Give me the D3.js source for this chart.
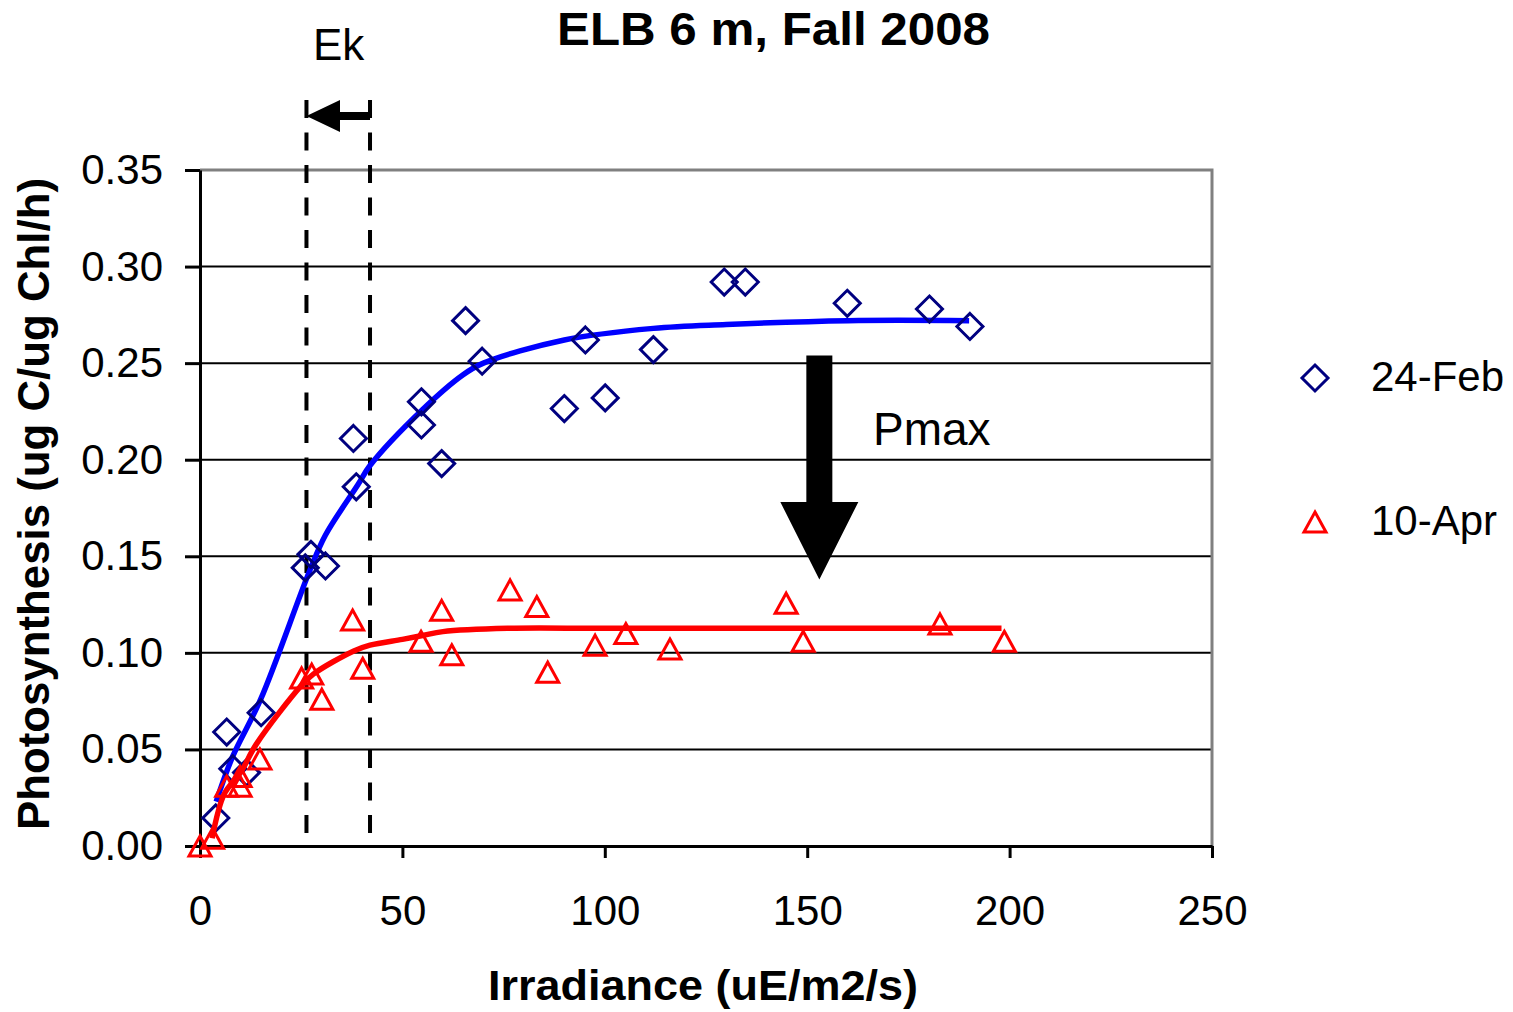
<!DOCTYPE html>
<html>
<head>
<meta charset="utf-8">
<script src="https://cdnjs.cloudflare.com/ajax/libs/d3/7.8.5/d3.min.js"></script>
<style>
  body { margin: 0; background: #fff; }
  text { font-family: "Liberation Sans", Arial, sans-serif; fill: #000; }
</style>
</head>
<body>
<div id="chart"></div>
<script>
/*  Data  */
var febX = [3.9, 6.6, 8.1, 11.5, 15.1, 26, 27.4, 31, 37.9, 38.6, 54.7, 54.7, 59.7, 65.6, 69.7, 90, 95.2, 100.1, 112, 129.5, 134.7, 159.9, 180.2, 190.2];
var febY = [0.0145, 0.059, 0.040, 0.038, 0.069, 0.144, 0.151, 0.145, 0.211, 0.186, 0.230, 0.218, 0.198, 0.272, 0.251, 0.2265, 0.262, 0.232, 0.257, 0.292, 0.292, 0.281, 0.278, 0.269];

var aprX = [0, 3.1, 6.6, 9.9, 9.9, 14.8, 25.1, 27.6, 30.1, 37.7, 40.2, 54.6, 59.7, 62.2, 76.6, 83.2, 85.9, 97.6, 105.2, 116.1, 144.8, 149.0, 182.8, 198.7];
var aprY = [0.000, 0.004, 0.031, 0.036, 0.031, 0.045, 0.087, 0.089, 0.076, 0.117, 0.092, 0.106, 0.122, 0.099, 0.1326, 0.124, 0.090, 0.104, 0.110, 0.102, 0.1257, 0.106, 0.115, 0.106];

// fitted curves
var febFitX = [4, 8, 15, 27, 31, 39, 42, 55, 65, 70, 90, 112, 130, 160, 190];
var febFitY = [0.023, 0.046, 0.076, 0.142, 0.161, 0.187, 0.197, 0.226, 0.244, 0.250, 0.262, 0.268, 0.270, 0.272, 0.272];
var aprFitX = [3, 6, 10, 14, 25, 28, 38, 42, 50, 55, 60, 76, 100, 150, 198];
var aprFitY = [0.004, 0.027, 0.038, 0.053, 0.083, 0.089, 0.101, 0.104, 0.107, 0.109, 0.111, 0.1127, 0.1127, 0.1127, 0.1127];

var seriesNames = ["24-Feb", "10-Apr"];
var xTicks = [0, 50, 100, 150, 200, 250];
var yTicks = [0, 0.05, 0.10, 0.15, 0.20, 0.25, 0.30, 0.35];
var ekValues = [26.3, 42];   // Ek for 10-Apr and 24-Feb
var pmaxValues = [0.254, 0.138];


/*  Setup  */
var W = 1513, H = 1012;
var svg = d3.select("#chart").append("svg")
            .attr("width", W)
            .attr("height", H);

var x = d3.scaleLinear().domain([0, 250]).range([200, 1212]);
var y = d3.scaleLinear().domain([0, 0.35]).range([846, 170]);

function pts(xs, ys){
  return xs.map(function(v, i){ return [v, ys[i]]; });
}

/*  Grid and frame  */
svg.append("g").selectAll("line")
   .data(yTicks.filter(function(d){ return d > 0 && d < 0.35; }))
   .enter().append("line")
   .attr("x1", x(0)).attr("x2", x(250))
   .attr("y1", function(d){ return y(d); })
   .attr("y2", function(d){ return y(d); })
   .attr("stroke", "#000").attr("stroke-width", 2);

svg.append("path")
   .attr("d", "M" + x(0) + "," + y(0.35) + "H" + x(250) + "V" + y(0))
   .attr("fill", "none").attr("stroke", "#808080").attr("stroke-width", 3);

/*  Axes  */
var yAxis = svg.append("g")
   .attr("transform", "translate(" + x(0) + ",0)")
   .call(d3.axisLeft(y).tickValues(yTicks).tickFormat(d3.format(".2f"))
           .tickSize(15).tickSizeOuter(0).tickPadding(22));
var xAxis = svg.append("g")
   .attr("transform", "translate(0," + y(0) + ")")
   .call(d3.axisBottom(x).tickValues(xTicks)
           .tickSize(12).tickSizeOuter(0).tickPadding(37));

[yAxis, xAxis].forEach(function(ax){
  ax.select(".domain").attr("stroke", "#000").attr("stroke-width", 3);
  ax.selectAll(".tick line").attr("stroke", "#000").attr("stroke-width", 3);
  ax.selectAll(".tick text")
    .attr("font-family", "Liberation Sans, Arial, sans-serif")
    .attr("font-size", 42).attr("fill", "#000");
});

/*  Ek dashed lines  */
svg.append("g").selectAll("line")
   .data(ekValues).enter().append("line")
   .attr("x1", function(d){ return x(d); })
   .attr("x2", function(d){ return x(d); })
   .attr("y1", 100).attr("y2", 836)
   .attr("stroke", "#000").attr("stroke-width", 4)
   .attr("stroke-dasharray", "18,14.5");

/*  Fit lines and markers  */
var line = d3.line()
   .x(function(d){ return x(d[0]); })
   .y(function(d){ return y(d[1]); })
   .curve(d3.curveCatmullRom.alpha(0.5));

var diamond = "M0,-13L13,0L0,13L-13,0Z";
var triangle = "M0,-10L11,10L-11,10Z";

function drawSeries(fit, data, lineColor, markColor, shape){
  svg.append("path")
     .attr("d", line(fit))
     .attr("fill", "none")
     .attr("stroke", lineColor)
     .attr("stroke-width", 5.5)
     .attr("stroke-linejoin", "round");
  svg.append("g").selectAll("path")
     .data(data).enter().append("path")
     .attr("d", shape)
     .attr("transform", function(d){ return "translate(" + x(d[0]) + "," + y(d[1]) + ")"; })
     .attr("fill", "none")
     .attr("stroke", markColor)
     .attr("stroke-width", 3);
}

drawSeries(pts(febFitX, febFitY), pts(febX, febY), "#0000ff", "#000080", diamond);
drawSeries(pts(aprFitX, aprFitY), pts(aprX, aprY), "#ff0000", "#ff0000", triangle);

/*  Annotations  */
// Ek arrow (pointing left)
var ekY = 116;
svg.append("path")
   .attr("d", "M" + x(ekValues[0]) + "," + ekY +
              "L340," + (ekY - 16) + "L340," + (ekY - 4) +
              "L" + x(ekValues[1]) + "," + (ekY - 4) +
              "L" + x(ekValues[1]) + "," + (ekY + 4) +
              "L340," + (ekY + 4) + "L340," + (ekY + 16) + "Z")
   .attr("fill", "#000");
svg.append("text").attr("x", 313).attr("y", 60)
   .attr("font-size", 44).text("Ek");

// Pmax arrow (pointing down)
var px = x(153);
svg.append("path")
   .attr("d", "M" + (px - 13) + "," + y(pmaxValues[0]) +
              "H" + (px + 13) + "V502H" + (px + 39) +
              "L" + px + "," + y(pmaxValues[1]) +
              "L" + (px - 39) + ",502H" + (px - 13) + "Z")
   .attr("fill", "#000");
svg.append("text").attr("x", 873).attr("y", 445)
   .attr("font-size", 46).text("Pmax");

/*  Legend  */
var legend = svg.append("g");
[[diamond, "#000080", 378], [triangle, "#ff0000", 522]].forEach(function(it, i){
  legend.append("path").attr("d", it[0])
        .attr("transform", "translate(1315," + it[2] + ")")
        .attr("fill", "none").attr("stroke", it[1]).attr("stroke-width", 3);
  legend.append("text").attr("x", 1371).attr("y", it[2] + 13)
        .attr("font-size", 42).text(seriesNames[i]);
});

/*  Titles  */
svg.append("text").attr("x", 773.5).attr("y", 45)
   .attr("text-anchor", "middle").attr("font-weight", "bold")
   .attr("font-size", 46).attr("textLength", 433).attr("lengthAdjust", "spacingAndGlyphs")
   .text("ELB 6 m, Fall 2008");
svg.append("text").attr("x", 703).attr("y", 1000)
   .attr("text-anchor", "middle").attr("font-weight", "bold")
   .attr("font-size", 43).attr("textLength", 430).attr("lengthAdjust", "spacingAndGlyphs")
   .text("Irradiance (uE/m2/s)");
svg.append("text").attr("transform", "translate(49,504) rotate(-90)")
   .attr("text-anchor", "middle").attr("font-weight", "bold")
   .attr("font-size", 45).attr("textLength", 652).attr("lengthAdjust", "spacingAndGlyphs")
   .text("Photosynthesis (ug C/ug Chl/h)");
</script>
</body>
</html>
